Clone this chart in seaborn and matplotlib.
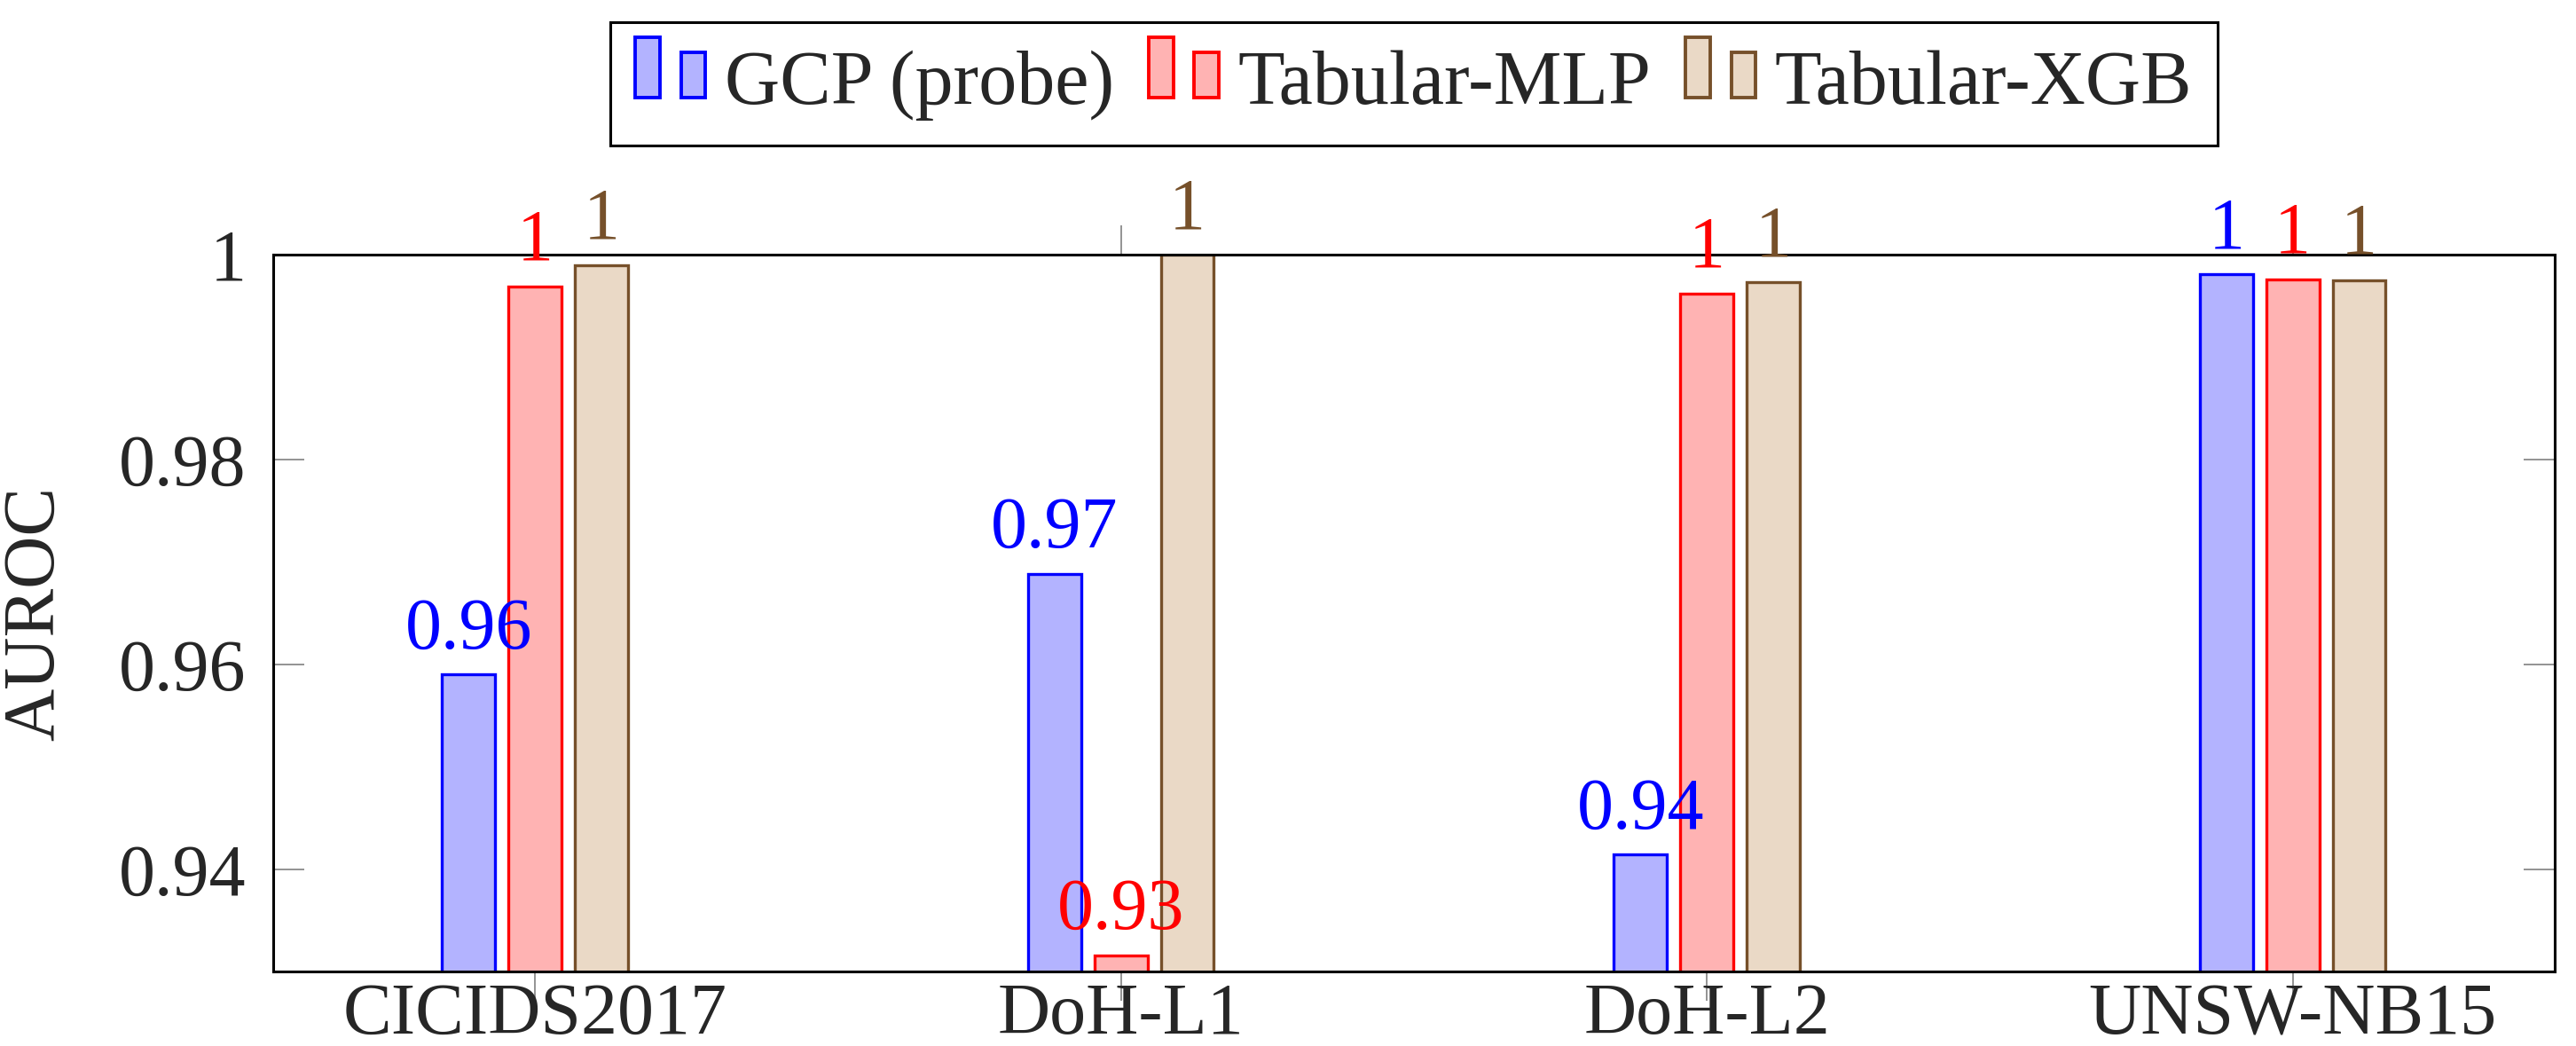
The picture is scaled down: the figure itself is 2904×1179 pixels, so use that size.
import matplotlib
matplotlib.use('Agg')
import matplotlib.pyplot as plt
import numpy as np
import pandas as pd
import seaborn as sns
from matplotlib.legend_handler import HandlerBase
from matplotlib.patches import Rectangle
from matplotlib.ticker import FuncFormatter

datasets = ['CICIDS2017', 'DoH-L1', 'DoH-L2', 'UNSW-NB15']
models = ['GCP (probe)', 'Tabular-MLP', 'Tabular-XGB']
gcp = [0.9590, 0.9688, 0.9414, 0.9981]
mlp = [0.9969, 0.9316, 0.9962, 0.9976]
xgb = [0.9990, 1.0000, 0.9973, 0.9975]

fills = ['#b3b3ff', '#ffb3b3', '#ead9c6']
edges = ['#0000ff', '#ff0000', '#76502a']

df = pd.DataFrame({
    'dataset': datasets * 3,
    'model': [m for m in models for _ in datasets],
    'auroc': gcp + mlp + xgb,
})

sns.set_style('white')
plt.rcParams['font.family'] = ['Liberation Serif', 'DejaVu Serif']
fs = 29.5


class TwoBars(HandlerBase):
    # pgfplots style ybar legend: two small bars
    def create_artists(self, legend, orig_handle, xdescent, ydescent,
                       width, height, fontsize, trans):
        bw = width * 0.35
        out = []
        for x0, h in [(0, height), (width - bw, height * 0.75)]:
            r = Rectangle((x0 - xdescent, -ydescent + 4), bw, h,
                          facecolor=orig_handle.get_facecolor(),
                          edgecolor=orig_handle.get_edgecolor(),
                          linewidth=1.4, transform=trans)
            out.append(r)
        return out


fig = plt.figure(figsize=(14.52, 5.895), dpi=200)
ax = fig.add_axes([0.106, 0.0712, 0.8857, 0.6853])

sns.barplot(data=df, x='dataset', y='auroc', hue='model', hue_order=models,
            palette=fills, saturation=1, width=0.34, gap=0.2, errorbar=None,
            linewidth=1.2, legend=False, ax=ax)

for cont, ec in zip(ax.containers, edges):
    for bar in cont:
        bar.set_edgecolor(ec)
        val = bar.get_height()
        ax.annotate('{:g}'.format(round(val, 2)),
                    (bar.get_x() + bar.get_width() / 2, val),
                    xytext=(0, 10.8), textcoords='offset points',
                    ha='center', va='baseline', color=ec, fontsize=fs,
                    annotation_clip=False)

ax.set_ylim(0.93, 1.0)
ax.set_xlim(-0.447, 3.447)
ax.set_yticks([0.94, 0.96, 0.98, 1.0])
ax.yaxis.set_major_formatter(FuncFormatter(lambda v, p: '{:g}'.format(round(v, 2))))
ax.set_xlabel('')
ax.set_ylabel('AUROC', fontsize=fs, labelpad=20)

ax.tick_params(axis='y', direction='in', length=12.6, width=0.6, color='grey',
               left=True, right=True, labelsize=fs, pad=11)
ax.tick_params(axis='x', direction='out', length=12, width=0.6, color='grey',
               bottom=True, top=True, labelsize=fs, pad=-7.5)
for s in ax.spines.values():
    s.set_color('black')
    s.set_linewidth(1.1)

leg = ax.legend(handles=[c.patches[0] for c in ax.containers], labels=models,
                handler_map={Rectangle: TwoBars()},
                loc='lower center', bbox_to_anchor=(0.5, 1.152), borderaxespad=0,
                ncol=3, fontsize=31, frameon=True, fancybox=False, framealpha=1,
                edgecolor='black', borderpad=0.33, handlelength=0.92,
                handleheight=0.83, handletextpad=0.25, columnspacing=0.45)
leg.get_frame().set_linewidth(1.1)

fig.savefig('out.png', dpi=200)
